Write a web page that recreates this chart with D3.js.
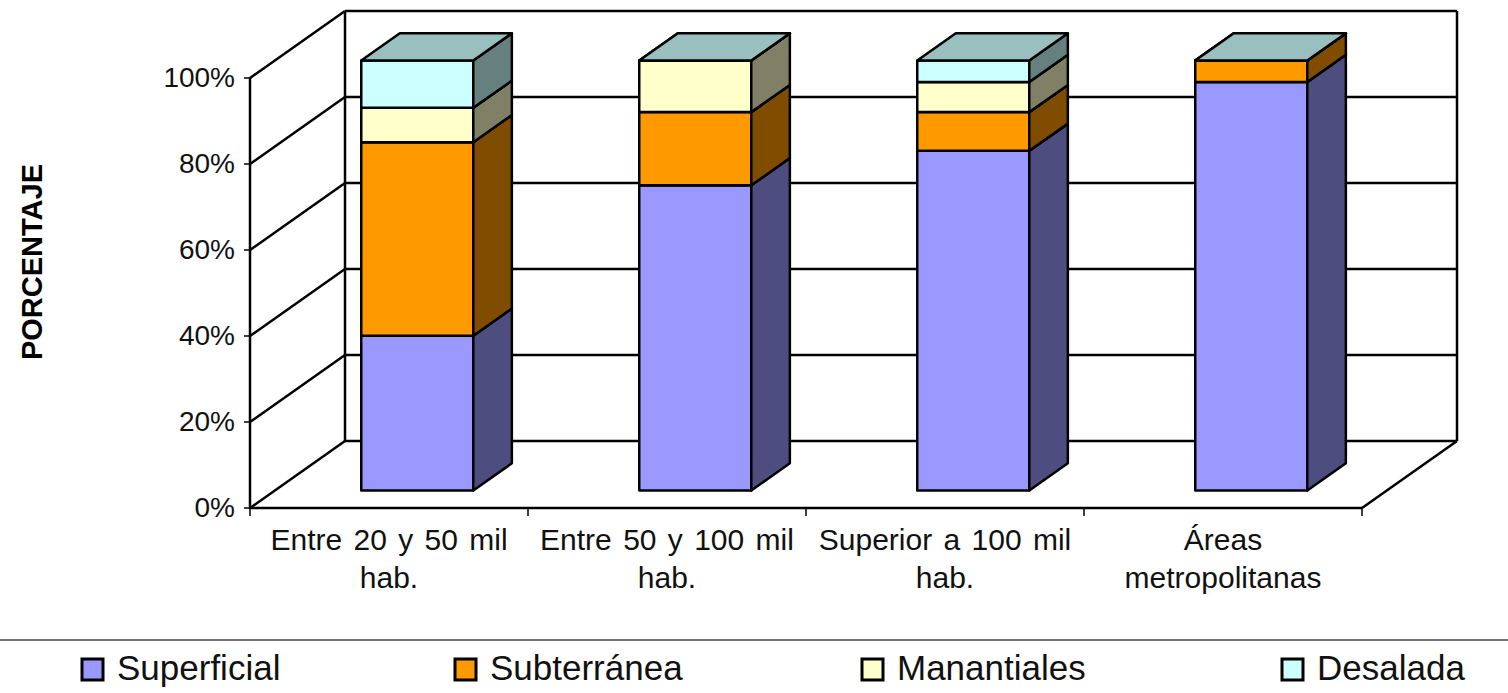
<!DOCTYPE html>
<html>
<head>
<meta charset="utf-8">
<script src="https://cdn.jsdelivr.net/npm/d3@7"></script>
<style>
    html, body { margin: 0; padding: 0; background: #fff; }
    svg { display: block; font-family: "Liberation Sans", Arial, sans-serif; }
</style>
</head>
<body>
<svg id="chart" width="1508" height="693"></svg>
<script>
// data
const categories = ['Entre 20 y 50 mil hab.', 'Entre 50 y 100 mil hab.', 'Superior a 100 mil hab.', 'Áreas metropolitanas'];
const categoryLines = [['Entre 20 y 50 mil', 'hab.'], ['Entre 50 y 100 mil', 'hab.'], ['Superior a 100 mil', 'hab.'], ['Áreas', 'metropolitanas']];
const seriesNames = ['Superficial', 'Subterránea', 'Manantiales', 'Desalada'];
const superficial = [36, 71, 79, 95];
const subterranea = [45, 17, 9, 5];
const manantiales = [8, 12, 7, 0];
const desalada = [11, 0, 5, 0];
const yTicks = [0, 20, 40, 60, 80, 100];
const seriesColors = ['#9999FF', '#FF9900', '#FFFFCC', '#CCFFFF'];

const svg = d3.select('#chart');

// 3d box: front plane + depth offset
const DX = 95, DY = 67;
const x = d3.scaleBand().domain(categories).range([250, 1362]);
const y = d3.scaleLinear().domain([0, 100]).range([508, 78]);
const P = (px, v, z) => [px + z * DX, y(v) - z * DY];

const xL = x.range()[0], xR = x.range()[1];

const shade = (c, k) => {
    const col = d3.rgb(c);
    return d3.rgb(col.r * k, col.g * k, col.b * k).formatHex();
};

const line = (a, b) => svg.append('line')
    .attr('x1', a[0]).attr('y1', a[1]).attr('x2', b[0]).attr('y2', b[1])
    .attr('stroke', '#000').attr('stroke-width', 2.5);

// walls and gridlines
yTicks.forEach(v => {
    line(P(xL, v, 0), P(xL, v, 1));
    line(P(xL, v, 1), P(xR, v, 1));
});
line(P(xL, 0, 1), P(xL, 100, 1));
line(P(xR, 0, 1), P(xR, 100, 1));
line(P(xL, 0, 0), P(xR, 0, 0));
line(P(xR, 0, 0), P(xR, 0, 1));

// value axis
line(P(xL, 0, 0), P(xL, 100, 0));
yTicks.forEach(v => {
    svg.append('line')
        .attr('x1', xL - 6).attr('x2', xL).attr('y1', y(v)).attr('y2', y(v))
        .attr('stroke', '#000').attr('stroke-width', 1.5);
    svg.append('text')
        .attr('x', 235).attr('y', y(v) - 1)
        .attr('text-anchor', 'end').attr('dominant-baseline', 'central')
        .attr('font-size', 28).attr('fill', '#111')
        .text(v + '%');
});

// category ticks and labels
const bounds = categories.map(c => x(c)).concat([xR]);
bounds.forEach(b => {
    svg.append('line')
        .attr('x1', b).attr('x2', b).attr('y1', y(0)).attr('y2', y(0) + 8)
        .attr('stroke', '#000').attr('stroke-width', 1.5);
});
categories.forEach((c, i) => {
    const t = svg.append('text')
        .attr('x', x(c) + x.bandwidth() / 2)
        .attr('text-anchor', 'middle')
        .attr('font-size', 30).attr('word-spacing', 3).attr('fill', '#111');
    categoryLines[i].forEach((ln, j) => {
        t.append('tspan').attr('x', x(c) + x.bandwidth() / 2).attr('y', 550 + j * 38).text(ln);
    });
});

// axis title
svg.append('text')
    .attr('transform', 'translate(42,262) rotate(-90)')
    .attr('text-anchor', 'middle')
    .attr('font-size', 29).attr('font-weight', 'bold').attr('fill', '#000')
    .text('PORCENTAJE');

// stacked 3d bars
const rows = categories.map((c, i) => ({
    cat: c,
    Superficial: superficial[i],
    'Subterránea': subterranea[i],
    Manantiales: manantiales[i],
    Desalada: desalada[i]
}));
const stacked = d3.stack().keys(seriesNames)(rows);

const zf = 0.261, zb = 0.667;
const poly = (pts, fill) => svg.append('polygon')
    .attr('points', pts.map(p => p.join(',')).join(' '))
    .attr('fill', fill).attr('stroke', '#000')
    .attr('stroke-width', 2.5).attr('stroke-linejoin', 'round');

categories.forEach((c, i) => {
    const bx0 = x(c) + x.bandwidth() * 0.311;
    const bx1 = bx0 + x.bandwidth() * 0.403;
    stacked.forEach((s, k) => {
        const [v0, v1] = s[i];
        const col = seriesColors[k];
        poly([P(bx0, v0, zf), P(bx1, v0, zf), P(bx1, v1, zf), P(bx0, v1, zf)], col);
        poly([P(bx1, v0, zf), P(bx1, v0, zb), P(bx1, v1, zb), P(bx1, v1, zf)], shade(col, 0.5));
        poly([P(bx0, v1, zf), P(bx1, v1, zf), P(bx1, v1, zb), P(bx0, v1, zb)], shade(col, 0.75));
    });
});

// legend
svg.append('line')
    .attr('x1', 0).attr('x2', 1508).attr('y1', 640).attr('y2', 640)
    .attr('stroke', '#444').attr('stroke-width', 1.5);

const legendX = [117, 490, 897, 1317];
seriesNames.forEach((name, k) => {
    svg.append('rect')
        .attr('x', legendX[k] - 35).attr('y', 659)
        .attr('width', 21).attr('height', 21)
        .attr('fill', seriesColors[k]).attr('stroke', '#000').attr('stroke-width', 3);
    svg.append('text')
        .attr('x', legendX[k]).attr('y', 680)
        .attr('font-size', 35).attr('fill', '#111')
        .text(name);
});
</script>
</body>
</html>
